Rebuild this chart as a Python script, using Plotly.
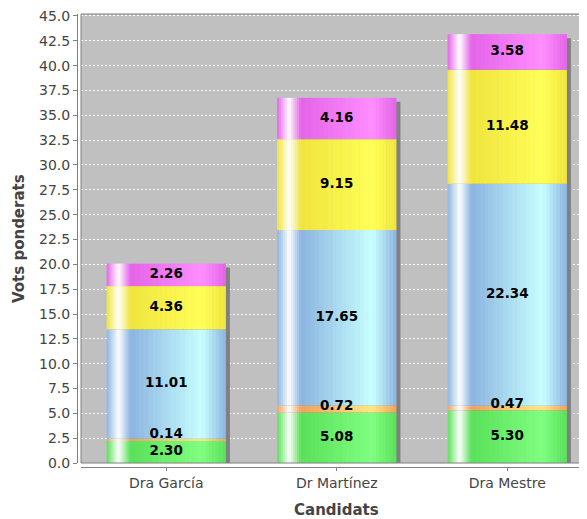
import plotly.graph_objects as go

categories = ["Dra García", "Dr Martínez", "Dra Mestre"]
green = [2.30, 5.08, 5.30]
orange = [0.14, 0.72, 0.47]
blue = [11.01, 17.65, 22.34]
yellow = [4.36, 9.15, 11.48]
magenta = [2.26, 4.16, 3.58]
series_values = [green, orange, blue, yellow, magenta]
base_colors = [(90, 224, 90), (240, 162, 92), (140, 180, 225), (240, 228, 62), (228, 100, 232)]

BAR_W = 0.70
PX_X = 170.5   # px per category unit
PX_Y = 9.978   # px per value unit
LABEL_HALF_PX = 6  # half label height: short segments keep label bottom on segment bottom


def brighter(c):
    i = 3
    out = []
    for v in c:
        if 0 < v < i:
            v = i
        out.append(min(int(v / 0.7), 255))
    return tuple(out)


def lerp(a, b, t):
    return tuple(a[k] + (b[k] - a[k]) * t for k in range(3))


def grad_color(c0, f):
    c1 = brighter(c0)
    white = (255, 255, 255)
    if f < 0.1:
        c = lerp(c0, white, f / 0.1)
    elif f < 0.2:
        c = lerp(white, c0, (f - 0.1) / 0.1)
    elif f < 0.8:
        c = lerp(c0, c1, (f - 0.2) / 0.6)
    else:
        c = lerp(c1, c0, (f - 0.8) / 0.2)
    return "rgb(%d,%d,%d)" % tuple(int(round(v)) for v in c)


# strip edges (fractions of the bar width)
edges = []
for a, b, n in [(0.0, 0.1, 6), (0.1, 0.2, 6), (0.2, 0.8, 16), (0.8, 1.0, 7)]:
    for k in range(n):
        edges.append((a + (b - a) * k / n, a + (b - a) * (k + 1) / n))

fig = go.Figure()

# cumulative bases
bases = []
cum = [0.0] * len(categories)
for vals in series_values:
    bases.append(list(cum))
    cum = [cum[i] + vals[i] for i in range(len(categories))]
totals = cum

# shadow
fig.add_trace(go.Bar(
    x=categories, y=totals, base=[-4 / PX_Y] * len(categories),
    width=BAR_W, offset=-BAR_W / 2 + 4 / PX_X,
    marker=dict(color="rgb(128,128,128)", line=dict(width=0)),
    hoverinfo="skip", showlegend=False))

overlap = 0.6 / PX_X
for s, vals in enumerate(series_values):
    for (f0, f1) in edges:
        fc = (f0 + f1) / 2
        w = (f1 - f0) * BAR_W + (overlap if f1 < 1.0 else 0)
        fig.add_trace(go.Bar(
            x=categories, y=vals, base=bases[s],
            width=w, offset=-BAR_W / 2 + f0 * BAR_W,
            marker=dict(color=grad_color(base_colors[s], fc), line=dict(width=0)),
            hoverinfo="skip", showlegend=False))

# labels
for s, vals in enumerate(series_values):
    ys = [max(bases[s][i] + vals[i] / 2, bases[s][i] + LABEL_HALF_PX / PX_Y)
          for i in range(len(categories))]
    fig.add_trace(go.Scatter(
        x=categories, y=ys,
        mode="text", text=["%.2f" % v for v in vals],
        textposition="middle center",
        textfont=dict(family="DejaVu Sans", size=13.5, color="black", weight="bold"),
        hoverinfo="skip", showlegend=False, cliponaxis=False))

# the page body has an 8px margin: figure placed so the plot lands where it should
L, T, B = 69, 4, 52
W, H = 579, 511
paper_w = W - L
paper_h = H - T - B

fig.update_layout(
    width=W, height=H,
    margin=dict(l=L, r=0, t=T, b=B, pad=0),
    barmode="overlay",
    paper_bgcolor="white",
    plot_bgcolor="rgb(192,192,192)",
    font=dict(family="DejaVu Sans", size=14, color="#444444"),
    xaxis=dict(
        type="category", range=[-0.5, -0.5 + (paper_w - 4) / PX_X],
        domain=[4 / paper_w, 1], anchor="free", position=0,
        showgrid=False, zeroline=False,
        showline=True, linecolor="gray", linewidth=1,
        ticks="outside", ticklen=3, tickcolor="gray",
        tickfont=dict(family="DejaVu Sans", size=14, color="#444444"),
    ),
    yaxis=dict(
        range=[0, (paper_h - 4) / PX_Y],
        domain=[4 / paper_h, 1], anchor="free", position=0,
        tick0=0, dtick=2.5, tickformat=".1f",
        tickmode="linear",
        ticklabeloverflow="allow",
        showgrid=True, gridcolor="white", gridwidth=1, griddash="2px,2px",
        zeroline=False,
        showline=True, linecolor="gray", linewidth=1,
        ticks="outside", ticklen=4, tickcolor="gray",
        tickfont=dict(family="DejaVu Sans", size=14, color="#444444"),
    ),
    shapes=[dict(type="rect", xref="x domain", yref="y domain",
                 x0=0, x1=1.02, y0=0, y1=1,
                 line=dict(color="gray", width=1), layer="above")],
    annotations=[
        dict(text="<b>Vots ponderats</b>", xref="paper", yref="paper",
             x=0, y=229 / paper_h, xshift=-58, textangle=-90,
             showarrow=False, xanchor="center", yanchor="middle",
             font=dict(family="DejaVu Sans", size=15, color="#444444")),
        dict(text="<b>Candidats</b>", xref="paper", yref="paper",
             x=259 / paper_w, y=0, yshift=-43,
             showarrow=False, xanchor="center", yanchor="middle",
             font=dict(family="DejaVu Sans", size=15, color="#444444")),
    ],
    showlegend=False,
)

fig.write_html("out.html")
